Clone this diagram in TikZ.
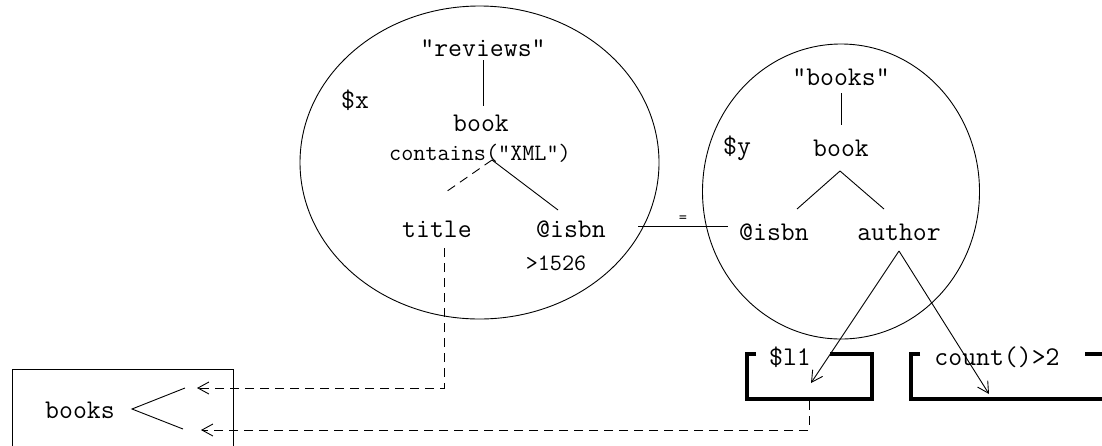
\documentclass[tikz,border=0pt]{standalone}
\usepackage{fontspec}
\usetikzlibrary{arrows.meta,shapes.geometric}
\begin{document}
\begin{tikzpicture}[x=1pt,y=-1pt,
  lbl/.style={font=\ttfamily\fontsize{27}{30}\selectfont, inner sep=0pt},
  sm/.style={font=\ttfamily\fontsize{23.5}{26}\selectfont, inner sep=0pt},
  thin/.style={line width=0.9pt},
  dsh/.style={line width=0.9pt, dash pattern=on 9pt off 6pt},
  bracket/.style={line width=3.2pt},
  openarrow/.style={-{Straight Barb[length=11pt,width=12pt,line width=0.9pt]}},
]
\useasboundingbox (0,0) rectangle (1102,445);
\clip (0,0) rectangle (1102,445);

% ellipses
\node[draw, thin, ellipse, minimum width=359pt, minimum height=313pt, inner sep=0pt] (ex) at (479.5,162.5) {};
\node[draw, thin, ellipse, minimum width=277pt, minimum height=295pt, inner sep=0pt] (ey) at (841,191.5) {};

% left tree
\node[lbl] (reviews) at (483,48) {"reviews"};
\node[lbl] (x) at (355,100) {\$x};
\node[lbl] (book1) at (481,123) {book};
\node[sm] (contains) at (480,153) {contains("XML")};
\node[lbl] (title) at (437,229) {title};
\node[lbl] (isbn1) at (571,229) {@isbn};
\node[sm] (gt) at (556,263) {>1526};

% right tree
\node[lbl] (booksq) at (841,77) {"books"};
\node[lbl] (y) at (737,148) {\$y};
\node[lbl] (book2) at (841,148) {book};
\node[lbl] (isbn2) at (774,232) {@isbn};
\node[lbl] (author) at (899,232) {author};
\node[font=\ttfamily\fontsize{16}{18}\selectfont, inner sep=0pt] (eq) at (683,219) {=};

% connection points
\coordinate (r1) at (483,60);
\coordinate (r2) at (483,106);
\coordinate (f1) at (492,160);
\coordinate (f1t) at (443,194);
\coordinate (f1i) at (558,210);
\coordinate (b1) at (841,93);
\coordinate (b2) at (841,125);
\coordinate (f2) at (840,171);
\coordinate (f2i) at (797,209);
\coordinate (f2a) at (884,209);
\coordinate (e1) at (638,226);
\coordinate (e2) at (728,226);
\coordinate (au) at (899,251);
\coordinate (l1tip) at (811,383);
\coordinate (cntip) at (989,394);

\draw[thin] (r1) -- (r2);
\draw[dsh] (f1) -- (f1t);
\draw[thin] (f1) -- (f1i);
\draw[thin] (b1) -- (b2);
\draw[thin] (f2) -- (f2i);
\draw[thin] (f2) -- (f2a);
\draw[thin] (e1) -- (e2);
\draw[thin, openarrow] (au) -- (l1tip);
\draw[thin, openarrow] (au) -- (cntip);

% result boxes
\node[lbl] (l1) at (790,357) {\$l1};
\node[lbl] (count) at (997,357) {count()>2};
\draw[bracket] (756,354) -- (747,354) -- (747,399) -- (872,399) -- (872,354) -- (830,354);
\draw[bracket] (920,354) -- (911,354) -- (911,399) -- (1115,399);
\draw[bracket] (1085,354) -- (1115,354);
\coordinate (l1b) at (809,401);

% output box
\draw[thin] (12,369) rectangle (233,470);
\node[lbl] (books) at (80,410) {books};
\coordinate (fk) at (132,409);
\coordinate (fku) at (185,388);
\coordinate (fkl) at (183,429);
\draw[thin] (fku) -- (fk) -- (fkl);
\coordinate (tu) at (197,388);
\coordinate (tl) at (201,430);
\coordinate (ts) at (444,248);

\draw[dsh, openarrow] (ts) |- (tu);
\draw[dsh, openarrow] (l1b) |- (tl);
\end{tikzpicture}
\end{document}
